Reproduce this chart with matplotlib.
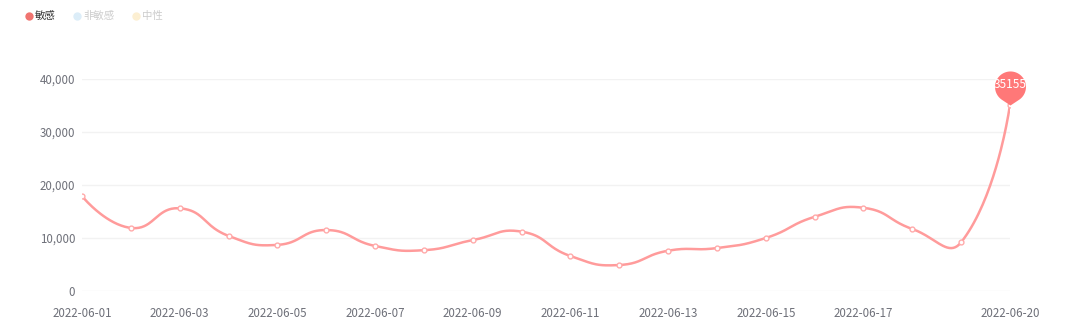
import numpy as np
import matplotlib.pyplot as plt
from matplotlib.path import Path
from matplotlib.lines import Line2D

plt.rcParams['font.family'] = ['Noto Sans CJK SC', 'DejaVu Sans']

dates = ['2022-06-01', '2022-06-02', '2022-06-03', '2022-06-04', '2022-06-05',
         '2022-06-06', '2022-06-07', '2022-06-08', '2022-06-09', '2022-06-10',
         '2022-06-11', '2022-06-12', '2022-06-13', '2022-06-14', '2022-06-15',
         '2022-06-16', '2022-06-17', '2022-06-18', '2022-06-19', '2022-06-20']
sensitive = [17900, 11900, 15600, 10400, 8700, 11500, 8500, 7700, 9600, 11200,
             6600, 4900, 7600, 8100, 10000, 14000, 15700, 11700, 9200, 35155]
legend_names = ['敏感', '非敏感', '中性']
legend_colors = ['#f07470', '#dcedf8', '#fcefd2']
yticks = [0, 10000, 20000, 30000, 40000]

AX_LEFT, AX_RIGHT, AX_TOP, AX_BOTTOM = 82, 1010, 79, 291


def smooth_curve(x, y, sx, sy, smooth=0.5, n=40):
    # echarts-style bezier smoothing, computed in pixel space
    px = np.asarray(x, float) * sx
    py = np.asarray(y, float) * sy
    m = len(px)
    cin = [None] * m
    cout = [None] * m
    for i in range(m):
        p = np.array([px[i], py[i]])
        if i == 0 or i == m - 1:
            cin[i] = cout[i] = p
            continue
        prev = np.array([px[i - 1], py[i - 1]])
        nxt = np.array([px[i + 1], py[i + 1]])
        v = nxt - prev
        d0 = np.hypot(*(p - prev))
        d1 = np.hypot(*(nxt - p))
        ratio = d1 / (d0 + d1)
        cin[i] = p - v * smooth * (1 - ratio)
        cout[i] = p + v * smooth * ratio
    xs, ys = [], []
    t = np.linspace(0, 1, n)[:, None]
    for i in range(m - 1):
        p0 = np.array([px[i], py[i]])
        p3 = np.array([px[i + 1], py[i + 1]])
        c1, c2 = cout[i], cin[i + 1]
        pts = (1 - t) ** 3 * p0 + 3 * (1 - t) ** 2 * t * c1 + 3 * (1 - t) * t ** 2 * c2 + t ** 3 * p3
        xs.extend(pts[:, 0] / sx)
        ys.extend(pts[:, 1] / sy)
    return np.array(xs), np.array(ys)


fig = plt.figure(figsize=(10.8, 3.31), dpi=100)
ax = fig.add_axes([AX_LEFT / 1080, (331 - AX_BOTTOM) / 331,
                   (AX_RIGHT - AX_LEFT) / 1080, (AX_BOTTOM - AX_TOP) / 331])

x = np.arange(len(dates))
px_per_x = (AX_RIGHT - AX_LEFT) / (len(dates) - 1)
px_per_y = (AX_BOTTOM - AX_TOP) / 40000
sx_, sy_ = smooth_curve(x, sensitive, px_per_x, px_per_y)
ax.plot(sx_, sy_, color='#ff9b9b', lw=1.8, zorder=3)
ax.plot(x, sensitive, ls='none', marker='o', ms=3.5, mfc='white', mec='#ffaaaa', mew=1, zorder=4)

# pin marker on max value
c, r = 1.2, 1.0
a0 = np.degrees(np.arccos(r / c))
ang = np.radians(np.linspace(-90 + a0, 270 - a0, 80))
verts = [(0, 0)] + [(r * np.cos(a), c + r * np.sin(a)) for a in ang] + [(0, 0)]
pin = Path(verts, [Path.MOVETO] + [Path.LINETO] * (len(verts) - 2) + [Path.CLOSEPOLY])
imax = int(np.argmax(sensitive))
ax.plot([x[imax]], [sensitive[imax]], marker=pin, ms=49, mfc='#ff7878', mec='none', zorder=5, clip_on=False)
ax.annotate(str(sensitive[imax]), (x[imax], sensitive[imax]), xytext=(0, 14.5), textcoords='offset points',
            ha='center', va='center', color='white', fontsize=8.5, zorder=6, annotation_clip=False)

ax.set_xlim(0, len(dates) - 1)
ax.set_ylim(0, 40000)
ax.set_yticks(yticks)
ax.set_yticklabels([f'{v:,}' for v in yticks])
shown = list(range(0, len(dates) - 2, 2)) + [len(dates) - 1]
ax.set_xticks(shown)
ax.set_xticklabels([dates[i] for i in shown])
ax.tick_params(axis='both', length=0, labelsize=8.3, colors='#6e7079')
ax.tick_params(axis='x', pad=11.5)
ax.tick_params(axis='y', pad=5)
for s in ax.spines.values():
    s.set_visible(False)
ax.grid(axis='y', color='#f2f2f2', lw=1)
ax.set_axisbelow(True)

# legend
lx = [29, 77, 136]
for px, name, col in zip(lx, legend_names, legend_colors):
    fig.add_artist(Line2D([px / 1080], [1 - 16 / 331], marker='o', ms=6, mfc=col, mec='none',
                          transform=fig.transFigure))
    fig.text((px + 6) / 1080, 1 - 16 / 331, name, fontsize=7.5, va='center',
             color='#333333' if name == '敏感' else '#cccccc')

fig.savefig('out.png', dpi=100)
